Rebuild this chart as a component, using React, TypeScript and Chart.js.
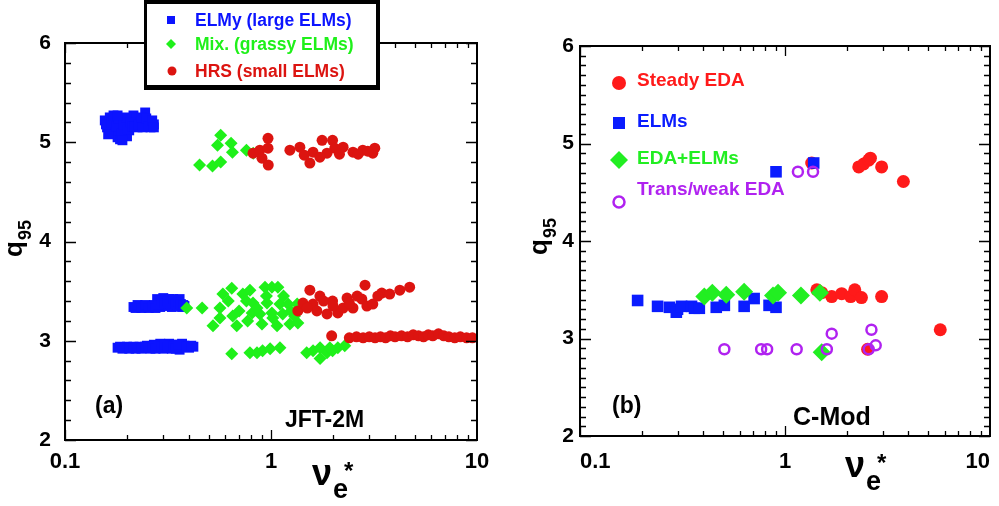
import React, { useEffect, useRef } from "react";
import { Chart, registerables } from "chart.js";

Chart.register(...registerables);

type P = [number, number];

const FONT = "'Liberation Sans', Arial, Helvetica, sans-serif";

// tick labels
const xTickValues = [0.1, 1, 10];
const yTickValues = [2, 3, 4, 5, 6];

// ---------- (a) JFT-2M ----------
const jftElmyLabel = "ELMy (large ELMs)";
const jftMixLabel = "Mix. (grassy ELMs)";
const jftHrsLabel = "HRS (small ELMs)";

const jftElmyHigh: P[] = [
  [0.156, 5.22], [0.16, 5.15], [0.165, 5.25], [0.17, 5.1], [0.175, 5.2], [0.18, 5.05],
  [0.185, 5.15], [0.19, 5.22], [0.195, 5.08], [0.2, 5.18], [0.205, 5.12], [0.21, 5.24],
  [0.22, 5.2], [0.225, 5.15], [0.23, 5.22], [0.24, 5.17], [0.245, 5.3],
  [0.25, 5.2], [0.26, 5.15], [0.27, 5.18], [0.185, 5.03], [0.2, 5.06], [0.175, 5.12],
  [0.165, 5.17], [0.215, 5.27], [0.158, 5.18], [0.162, 5.08], [0.168, 5.2], [0.172, 5.27],
  [0.178, 5.16], [0.182, 5.24], [0.188, 5.09], [0.192, 5.18], [0.198, 5.25], [0.202, 5.13],
  [0.208, 5.2], [0.212, 5.16], [0.218, 5.16], [0.228, 5.18], [0.235, 5.25], [0.238, 5.15],
  [0.248, 5.24], [0.255, 5.16], [0.265, 5.22], [0.27, 5.15], [0.19, 5.02], [0.18, 5.27],
];
const jftElmyMid: P[] = [
  [0.215, 3.34], [0.22, 3.33], [0.23, 3.35], [0.24, 3.34], [0.25, 3.35], [0.26, 3.34],
  [0.27, 3.36], [0.28, 3.42], [0.29, 3.34], [0.3, 3.43], [0.31, 3.35], [0.32, 3.42],
  [0.33, 3.34], [0.34, 3.4], [0.35, 3.35], [0.36, 3.42], [0.37, 3.34], [0.38, 3.35],
  [0.29, 3.38], [0.33, 3.38], [0.225, 3.36], [0.235, 3.33], [0.245, 3.36], [0.255, 3.33],
  [0.265, 3.35], [0.275, 3.33], [0.285, 3.36], [0.295, 3.41], [0.305, 3.38], [0.315, 3.4],
  [0.325, 3.37], [0.335, 3.42], [0.345, 3.37], [0.355, 3.39], [0.365, 3.37], [0.375, 3.36],
];
const jftElmyLow: P[] = [
  [0.18, 2.93], [0.19, 2.92], [0.2, 2.94], [0.21, 2.93], [0.22, 2.92], [0.23, 2.94],
  [0.24, 2.93], [0.25, 2.95], [0.26, 2.92], [0.27, 2.96], [0.28, 2.93], [0.29, 2.97],
  [0.3, 2.92], [0.31, 2.95], [0.32, 2.97], [0.33, 2.92], [0.34, 2.96], [0.35, 2.94],
  [0.36, 2.91], [0.38, 2.95], [0.4, 2.93], [0.42, 2.94], [0.37, 2.97], [0.185, 2.94],
  [0.195, 2.93], [0.205, 2.92], [0.215, 2.94], [0.225, 2.93], [0.235, 2.92], [0.245, 2.94],
  [0.255, 2.93], [0.265, 2.94], [0.275, 2.92], [0.285, 2.95], [0.295, 2.94], [0.305, 2.96],
  [0.315, 2.93], [0.325, 2.95], [0.335, 2.94], [0.345, 2.92], [0.355, 2.96], [0.39, 2.94],
  [0.41, 2.95],
];
const jftMixHigh: P[] = [
  [0.57, 5.07], [0.55, 4.97], [0.64, 4.99], [0.65, 4.9], [0.76, 4.92], [0.45, 4.77],
  [0.52, 4.76], [0.57, 4.8], [0.82, 4.89],
];
const jftMixMid: P[] = [
  [0.39, 3.33], [0.463, 3.33], [0.523, 3.15], [0.565, 3.33], [0.584, 3.47], [0.645, 3.53],
  [0.652, 3.25], [0.565, 3.23], [0.682, 3.15], [0.73, 3.47], [0.76, 3.4], [0.79, 3.51],
  [0.81, 3.28], [0.818, 3.38], [0.77, 3.2], [0.883, 3.27], [0.904, 3.17], [0.935, 3.54],
  [0.956, 3.38], [1.01, 3.54], [1.08, 3.54], [1.02, 3.23], [1.105, 3.37], [1.14, 3.27],
  [1.21, 3.37], [1.235, 3.17], [1.34, 3.37], [1.35, 3.18], [1.07, 3.15], [0.855, 3.33],
  [1.01, 3.28], [0.7, 3.3], [0.95, 3.45], [1.15, 3.45], [1.25, 3.3], [0.62, 3.4], [1.3, 3.25],
];
const jftMixLow: P[] = [
  [0.645, 2.87], [0.79, 2.88], [0.855, 2.88], [0.91, 2.9], [0.99, 2.92], [1.105, 2.93],
  [1.49, 2.88], [1.6, 2.9], [1.73, 2.93], [1.73, 2.82], [1.87, 2.88], [1.99, 2.9],
  [2.11, 2.93], [2.28, 2.95], [1.93, 2.93],
];
const jftHrsHigh: P[] = [
  [0.818, 4.89], [0.883, 4.92], [0.967, 5.04], [0.967, 4.94], [0.904, 4.84], [0.97, 4.77],
  [1.235, 4.92], [1.381, 4.95], [1.544, 4.79], [1.6, 4.9], [1.77, 5.02], [1.99, 5.02],
  [2.04, 4.94], [2.24, 4.95], [2.5, 4.9], [2.79, 4.92], [3.12, 4.89], [3.19, 4.94],
  [1.87, 4.89], [1.727, 4.85], [1.45, 4.87], [2.15, 4.88], [2.65, 4.88], [2.95, 4.91],
];
const jftHrsMid: P[] = [
  [1.35, 3.3], [1.43, 3.38], [1.544, 3.51], [1.6, 3.37], [1.67, 3.3], [1.727, 3.45],
  [1.87, 3.27], [1.99, 3.4], [2.11, 3.28], [2.24, 3.33], [2.34, 3.43], [2.5, 3.33],
  [2.62, 3.45], [2.76, 3.42], [2.86, 3.56], [2.92, 3.35], [3.12, 3.37], [3.45, 3.48],
  [3.77, 3.47], [4.22, 3.51], [4.71, 3.54], [1.5, 3.33], [2.0, 3.35], [2.4, 3.38],
  [3.3, 3.45], [1.8, 3.4],
];
const jftHrsLow: P[] = [
  [1.97, 3.05], [2.4, 3.03], [2.6, 3.04], [2.8, 3.03], [3.0, 3.04], [3.2, 3.03],
  [3.4, 3.04], [3.6, 3.03], [3.8, 3.05], [4.0, 3.04], [4.3, 3.05], [4.6, 3.04],
  [4.9, 3.06], [5.2, 3.05], [5.5, 3.04], [5.8, 3.06], [6.1, 3.05], [6.5, 3.07],
  [6.9, 3.05], [7.3, 3.04], [7.8, 3.03], [8.3, 3.04], [8.9, 3.03], [9.5, 3.03],
];

// ---------- (b) C-Mod ----------
const cmodSteadyLabel = "Steady EDA";
const cmodElmsLabel = "ELMs";
const cmodEdaElmsLabel = "EDA+ELMs";
const cmodTransLabel = "Trans/weak EDA";

const cmodSteady: P[] = [
  [1.35, 4.8], [2.29, 4.76], [2.42, 4.79], [2.56, 4.83], [2.61, 4.85], [2.96, 4.76],
  [3.78, 4.61], [1.43, 3.5], [1.51, 3.47], [1.69, 3.43], [1.89, 3.46], [2.09, 3.43],
  [2.19, 3.5], [2.36, 3.42], [2.96, 3.43], [5.72, 3.09], [2.53, 2.89],
];
const cmodElms: P[] = [
  [0.904, 4.71], [1.38, 4.8], [0.191, 3.39], [0.239, 3.33], [0.273, 3.32], [0.299, 3.3],
  [0.295, 3.27], [0.313, 3.33], [0.35, 3.33], [0.362, 3.31], [0.382, 3.31], [0.462, 3.32],
  [0.506, 3.34], [0.632, 3.33], [0.707, 3.41], [0.836, 3.34], [0.904, 3.32],
];
const cmodEdaElms: P[] = [
  [0.404, 3.43], [0.442, 3.47], [0.517, 3.45], [0.632, 3.48], [0.874, 3.44], [0.925, 3.47],
  [1.196, 3.44], [1.48, 3.47], [1.51, 2.86],
];
const cmodTrans: P[] = [
  [0.506, 2.89], [0.765, 2.89], [0.818, 2.89], [1.14, 2.89], [1.6, 2.89], [1.69, 3.05],
  [2.64, 3.09], [2.77, 2.93], [2.56, 2.89], [1.156, 4.71], [1.37, 4.71],
];

// colours
const L_BLUE = "#0c14ff";
const L_GREEN = "#1ff01a";
const L_RED = "#dc1410";
const R_RED = "#ff1a1a";
const R_BLUE = "#0a1cff";
const R_GREEN = "#22ee22";
const R_PURPLE = "#b022f0";

const pts = (a: P[]) => a.map(([x, y]) => ({ x, y }));

function xScale(height: number, padding: number, align: string) {
  return {
    type: "logarithmic",
    min: 0.1,
    max: 10,
    grid: { display: false, drawTicks: false },
    border: { display: false },
    afterBuildTicks: (s: any) => {
      s.ticks = xTickValues.map((v) => ({ value: v }));
    },
    afterFit: (s: any) => {
      s.height = height;
      s.paddingLeft = 0;
      s.paddingRight = 0;
    },
    ticks: {
      autoSkip: false,
      maxRotation: 0,
      minRotation: 0,
      padding,
      align,
      color: "#000",
      font: { family: FONT, size: 22, weight: "bold" },
      callback: (v: any) => String(v),
    },
  };
}

function yScale(width: number, padding: number) {
  return {
    type: "linear",
    min: 2,
    max: 6,
    grid: { display: false, drawTicks: false },
    border: { display: false },
    afterBuildTicks: (s: any) => {
      s.ticks = yTickValues.map((v) => ({ value: v }));
    },
    afterFit: (s: any) => {
      s.width = width;
      s.paddingTop = 0;
      s.paddingBottom = 0;
    },
    ticks: {
      padding,
      color: "#000",
      font: { family: FONT, size: 21, weight: "bold" },
      callback: (v: any) => String(v),
    },
  };
}

function drawText(
  ctx: CanvasRenderingContext2D,
  s: string,
  x: number,
  y: number,
  font: string,
  color: string,
  baseline: CanvasTextBaseline = "alphabetic"
) {
  ctx.font = font;
  ctx.fillStyle = color;
  ctx.textAlign = "left";
  ctx.textBaseline = baseline;
  ctx.fillText(s, x, y);
}

function drawFrameAndTicks(chart: any, yMinor: number) {
  const ctx: CanvasRenderingContext2D = chart.ctx;
  const { left, right, top, bottom } = chart.chartArea;
  const xs = chart.scales.x;
  const ys = chart.scales.y;
  ctx.save();
  ctx.strokeStyle = "#000";
  ctx.lineWidth = 1.3;
  ctx.beginPath();
  const decades = [0.1, 1];
  for (const d of decades) {
    for (let k = 1; k <= 9; k++) {
      const v = d * k;
      const px = Math.round(xs.getPixelForValue(v)) + 0.5;
      const len = k === 1 ? 10 : 5;
      ctx.moveTo(px, bottom);
      ctx.lineTo(px, bottom - len);
      ctx.moveTo(px, top);
      ctx.lineTo(px, top + len);
    }
  }
  const n = Math.round(4 / yMinor);
  for (let i = 0; i <= n; i++) {
    const v = 2 + i * yMinor;
    const major = Math.abs(v - Math.round(v)) < 1e-6;
    const py = Math.round(ys.getPixelForValue(v)) + 0.5;
    const len = major ? 11 : 6;
    ctx.moveTo(left, py);
    ctx.lineTo(left + len, py);
    ctx.moveTo(right, py);
    ctx.lineTo(right - len, py);
  }
  ctx.stroke();
  ctx.lineWidth = 2;
  ctx.strokeRect(left, top, right - left, bottom - top);
  ctx.restore();
}

function drawQ95(ctx: CanvasRenderingContext2D, x: number, y: number) {
  ctx.save();
  ctx.translate(x, y);
  ctx.rotate(-Math.PI / 2);
  drawText(ctx, "q", 0, 0, `bold 26px ${FONT}`, "#000");
  drawText(ctx, "95", 17, 9, `bold 18px ${FONT}`, "#000");
  ctx.restore();
}

function drawNu(ctx: CanvasRenderingContext2D, x: number, y: number) {
  drawText(ctx, "ν", x, y, `bold 36px ${FONT}`, "#000");
  drawText(ctx, "e", x + 21, y + 13, `bold 27px ${FONT}`, "#000");
  drawText(ctx, "*", x + 32, y - 6, `bold 24px ${FONT}`, "#000");
}

const leftDecor = {
  id: "leftDecor",
  afterDraw(chart: any) {
    const ctx: CanvasRenderingContext2D = chart.ctx;
    drawFrameAndTicks(chart, 0.2);
    ctx.save();
    drawQ95(ctx, 22, 257);
    drawNu(ctx, 312, 485);
    drawText(ctx, "(a)", 95, 413, `bold 23px ${FONT}`, "#000");
    drawText(ctx, "JFT-2M", 285, 427, `bold 23px ${FONT}`, "#000");
    // legend box
    ctx.fillStyle = "#000";
    ctx.fillRect(144, 0, 236, 90);
    ctx.fillStyle = "#fff";
    ctx.fillRect(147, 4, 229, 81);
    // markers
    ctx.fillStyle = L_BLUE;
    ctx.fillRect(167, 16, 8, 8);
    ctx.fillStyle = L_GREEN;
    ctx.beginPath();
    ctx.moveTo(171, 39);
    ctx.lineTo(176, 44);
    ctx.lineTo(171, 49);
    ctx.lineTo(166, 44);
    ctx.closePath();
    ctx.fill();
    ctx.fillStyle = L_RED;
    ctx.beginPath();
    ctx.arc(172, 71, 4.5, 0, Math.PI * 2);
    ctx.fill();
    const f = `bold 17.5px ${FONT}`;
    drawText(ctx, jftElmyLabel, 195, 21, f, L_BLUE, "middle");
    drawText(ctx, jftMixLabel, 195, 45, f, L_GREEN, "middle");
    drawText(ctx, jftHrsLabel, 195, 72, f, L_RED, "middle");
    ctx.restore();
  },
};

const rightDecor = {
  id: "rightDecor",
  afterDraw(chart: any) {
    const ctx: CanvasRenderingContext2D = chart.ctx;
    drawFrameAndTicks(chart, 0.1);
    ctx.save();
    drawQ95(ctx, 47, 255);
    drawNu(ctx, 345, 477);
    drawText(ctx, "(b)", 112, 413, `bold 23px ${FONT}`, "#000");
    drawText(ctx, "C-Mod", 293, 425, `bold 25px ${FONT}`, "#000");
    // legend markers
    ctx.fillStyle = R_RED;
    ctx.beginPath();
    ctx.arc(119, 83, 7, 0, Math.PI * 2);
    ctx.fill();
    ctx.fillStyle = R_BLUE;
    ctx.fillRect(113, 117, 12, 12);
    ctx.fillStyle = R_GREEN;
    ctx.beginPath();
    ctx.moveTo(119, 151);
    ctx.lineTo(128, 160);
    ctx.lineTo(119, 169);
    ctx.lineTo(110, 160);
    ctx.closePath();
    ctx.fill();
    ctx.strokeStyle = R_PURPLE;
    ctx.lineWidth = 2.5;
    ctx.beginPath();
    ctx.arc(119, 202, 5.5, 0, Math.PI * 2);
    ctx.stroke();
    const f = `bold 19px ${FONT}`;
    drawText(ctx, cmodSteadyLabel, 137, 81, f, R_RED, "middle");
    drawText(ctx, cmodElmsLabel, 137, 122, f, R_BLUE, "middle");
    drawText(ctx, cmodEdaElmsLabel, 137, 159, f, R_GREEN, "middle");
    drawText(ctx, cmodTransLabel, 137, 190, f, R_PURPLE, "middle");
    ctx.restore();
  },
};

function scatterSet(data: P[], style: string, radius: number, color: string, extra: any = {}) {
  return {
    data: pts(data),
    pointStyle: style,
    pointRadius: radius,
    pointHoverRadius: radius,
    backgroundColor: color,
    borderColor: color,
    borderWidth: 0,
    showLine: false,
    ...extra,
  };
}

function buildLeft(): any {
  return {
    type: "scatter",
    data: {
      datasets: [
        scatterSet([...jftHrsHigh, ...jftHrsMid, ...jftHrsLow], "circle", 5.5, L_RED),
        scatterSet([...jftMixHigh, ...jftMixMid, ...jftMixLow], "rectRot", 6.5, L_GREEN),
        scatterSet([...jftElmyHigh, ...jftElmyMid, ...jftElmyLow], "rect", 7, L_BLUE),
      ],
    },
    options: {
      responsive: false,
      animation: false,
      events: [],
      layout: { padding: { top: 43, right: 23, left: 0, bottom: 0 } },
      plugins: { legend: { display: false }, tooltip: { enabled: false } },
      scales: { x: xScale(66, 9, "center"), y: yScale(65, 14) },
    },
    plugins: [leftDecor],
  };
}

function buildRight(): any {
  return {
    type: "scatter",
    data: {
      datasets: [
        scatterSet(cmodTrans, "circle", 5, "rgba(0,0,0,0)", { borderColor: R_PURPLE, borderWidth: 2.5 }),
        scatterSet(cmodEdaElms, "rectRot", 9, R_GREEN),
        scatterSet(cmodElms, "rect", 8.2, R_BLUE),
        scatterSet(cmodSteady, "circle", 6.5, R_RED),
      ],
    },
    options: {
      responsive: false,
      animation: false,
      events: [],
      layout: { padding: { top: 46, right: 7, left: 0, bottom: 0 } },
      plugins: { legend: { display: false }, tooltip: { enabled: false } },
      scales: { x: xScale(70, 13, "inner"), y: yScale(80, 6) },
    },
    plugins: [rightDecor],
  };
}

export default function App() {
  const leftRef = useRef<HTMLCanvasElement>(null);
  const rightRef = useRef<HTMLCanvasElement>(null);
  useEffect(() => {
    const c1 = new Chart(leftRef.current as HTMLCanvasElement, buildLeft());
    const c2 = new Chart(rightRef.current as HTMLCanvasElement, buildRight());
    return () => {
      c1.destroy();
      c2.destroy();
    };
  }, []);
  return (
    <div style={{ position: "fixed", left: 0, top: 0, width: 999, height: 506, background: "#fff" }}>
      <canvas
        ref={leftRef}
        width={500}
        height={506}
        style={{ position: "absolute", left: 0, top: 0, width: 500, height: 506 }}
      />
      <canvas
        ref={rightRef}
        width={499}
        height={506}
        style={{ position: "absolute", left: 500, top: 0, width: 499, height: 506 }}
      />
    </div>
  );
}
